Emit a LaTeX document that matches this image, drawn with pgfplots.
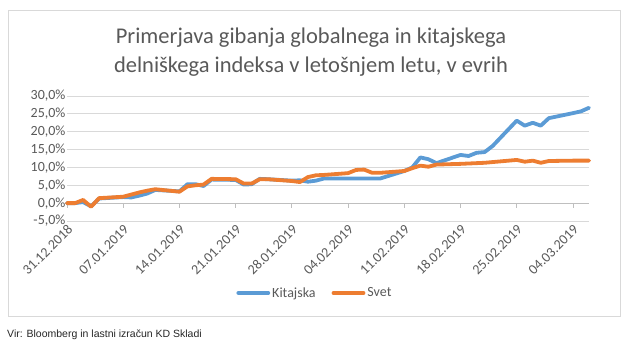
\documentclass[border=0pt]{standalone}
\usepackage{fontspec}
\setmainfont{Carlito}
\newfontfamily\arialfont{Liberation Sans}
\usepackage{pgfplots}
\pgfplotsset{compat=1.18}
\usepackage{pgfplotstable}
\definecolor{kblue}{HTML}{5B9BD5}
\definecolor{korange}{HTML}{ED7D31}
\definecolor{txt}{HTML}{595959}
\definecolor{gridc}{HTML}{D9D9D9}
\definecolor{axc}{HTML}{BFBFBF}

\pgfplotstableread{
day kit svet
0 0.0 0.0
1 0.0 0.0
2 0.3 0.9
3 -0.9 -1.0
4 1.3 1.4
7 1.7 1.8
8 1.6 2.4
9 2.1 3.0
10 2.7 3.5
11 3.7 3.9
14 3.3 3.2
15 5.3 4.7
16 5.3 5.0
17 4.8 5.2
18 6.6 6.8
21 6.5 6.7
22 5.2 5.5
23 5.3 5.5
24 6.8 6.7
25 6.7 6.7
28 6.3 6.2
29 6.4 5.9
30 6.0 7.3
31 6.3 7.8
32 6.9 7.9
35 6.9 8.4
36 6.9 9.3
37 6.9 9.4
38 6.9 8.5
39 6.9 8.5
42 9.0 9.0
43 10.0 9.8
44 12.8 10.5
45 12.3 10.2
46 11.2 10.8
49 13.5 11.0
50 13.2 11.1
51 14.1 11.2
52 14.3 11.3
53 16.0 11.5
56 23.1 12.1
57 21.7 11.6
58 22.5 11.9
59 21.7 11.3
60 23.8 11.8
63 25.2 11.9
64 25.7 11.9
65 26.7 11.9
}\data

\begin{document}
\begin{tikzpicture}
\path (0,0) rectangle (638pt,357pt);
\draw[gridc, line width=0.8pt] (8pt,41pt) rectangle (620pt,347pt);
\node[txt, font=\fontsize{22.5}{26}\selectfont] at (311pt,319pt) {Primerjava gibanja globalnega in kitajskega};
\node[txt, font=\fontsize{22.5}{26}\selectfont] at (311pt,290pt) {delniškega indeksa v letošnjem letu, v evrih};
\node[anchor=west, font=\arialfont\fontsize{10.5}{12}\selectfont, black!85, inner sep=0pt] at (7pt,22pt) {Vir: Bloomberg in lastni izračun KD Skladi};
\begin{axis}[
  at={(67pt,136pt)}, anchor=south west,
  scale only axis, width=522pt, height=125pt,
  xmin=0, xmax=65, ymin=-5, ymax=30,
  ytick={-5,0,...,30},
  ymajorgrids, grid style={gridc, line width=0.8pt},
  axis y line*=left, y axis line style={draw=none},
  ytick style={draw=none},
  axis x line*=bottom, x axis line style={draw=none},
  xtick={0,7,...,63},
  xticklabels={31.12.2018,07.01.2019,14.01.2019,21.01.2019,28.01.2019,04.02.2019,11.02.2019,18.02.2019,25.02.2019,04.03.2019},
  xtick style={draw=none},
  xticklabel style={xshift=5.5pt, yshift=-4pt, rotate=45, anchor=east, font=\fontsize{14}{16}\selectfont, txt},
  yticklabel style={font=\fontsize{14}{16}\selectfont, txt, anchor=east, xshift=2pt},
  /pgf/number format/assume math mode=true,
  yticklabel={\pgfmathprintnumber[fixed,fixed zerofill,precision=1,use comma]{\tick}\%},
  legend style={at={(0.475,0)}, anchor=center, yshift=-72pt, draw=none, fill=none,
    legend columns=2, font=\fontsize{14}{16}\selectfont, text=txt,
    /tikz/every even column/.append style={column sep=14pt}},
  legend image code/.code={\draw[#1] (0pt,0pt) -- (30pt,0pt);},
  clip=false,
]
\draw[axc, line width=0.8pt] (axis cs:0,0) -- (axis cs:65,0);
\pgfplotsinvokeforeach{0,7,...,63}{\draw[axc, line width=0.8pt] (axis cs:#1,0) -- ++(0pt,-5pt);}
\addplot[kblue, line width=3.8pt, line join=round, line cap=round] table[x=day,y=kit] {\data};
\addlegendentry{Kitajska}
\addplot[korange, line width=3.8pt, line join=round, line cap=round] table[x=day,y=svet] {\data};
\addlegendentry{Svet}
\end{axis}
\end{tikzpicture}
\end{document}
